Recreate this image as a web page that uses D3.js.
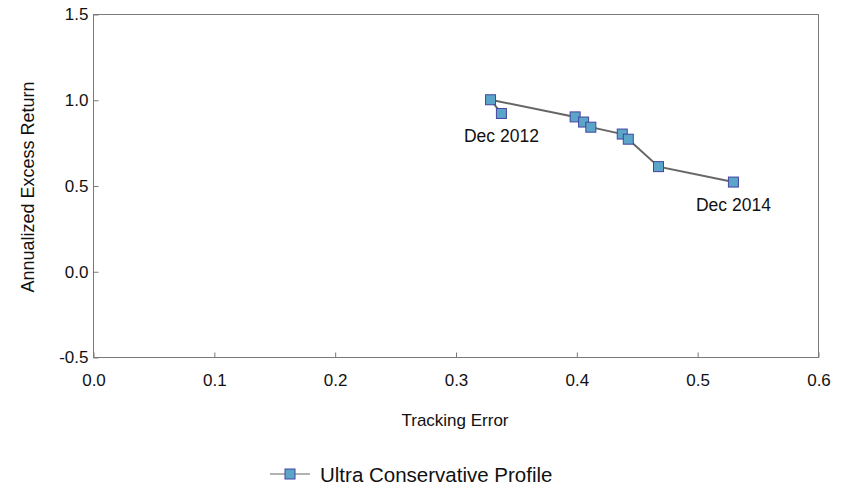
<!DOCTYPE html>
<html>
<head>
<meta charset="utf-8">
<script src="https://cdn.jsdelivr.net/npm/d3@7/dist/d3.min.js"></script>
<style>
  html, body { margin: 0; padding: 0; background: #fff; }
  svg { display: block; font-family: "Liberation Sans", Arial, sans-serif; }
</style>
</head>
<body>
<svg id="chart" width="850" height="485"></svg>
<script>
// Rolling risk/return path, Dec 2012 through Dec 2014
const periods = ["Dec 2012", "", "", "", "", "", "", "", "Dec 2014"];
const trackingError = [0.338, 0.329, 0.399, 0.406, 0.412, 0.438, 0.443, 0.468, 0.530];
const excessReturn = [0.92, 1.00, 0.90, 0.87, 0.84, 0.80, 0.77, 0.61, 0.52];
const xTicks = [0.0, 0.1, 0.2, 0.3, 0.4, 0.5, 0.6];
const yTicks = [-0.5, 0.0, 0.5, 1.0, 1.5];
const seriesName = "Ultra Conservative Profile";

const svg = d3.select("#chart");
const plotLeft = 93, plotRight = 818, plotTop = 14, plotBottom = 357;

const x = d3.scaleLinear().domain([0, 0.6]).range([plotLeft, plotRight]);
const y = d3.scaleLinear().domain([-0.5, 1.5]).range([plotBottom, plotTop]);

const frameColor = "#7a7a7a";
const lineColor = "#666666";
const markFill = "#5aa5c8";
const markStroke = "#4444a0";
const textColor = "#111";
// one decimal, plain hyphen for negatives
const fmt = d => d3.format(".1f")(d).replace("\u2212", "-");

// Plot frame
svg.append("rect")
  .attr("x", plotLeft + 0.5).attr("y", plotTop + 0.5)
  .attr("width", plotRight - plotLeft).attr("height", plotBottom - plotTop)
  .attr("fill", "none").attr("stroke", frameColor).attr("stroke-width", 1);

// X axis (ticks point into the plot)
const xAxis = svg.append("g")
  .attr("transform", `translate(0.5,${plotBottom + 0.5})`)
  .call(d3.axisBottom(x).tickValues(xTicks).tickFormat(fmt)
    .tickSizeInner(-5).tickSizeOuter(0).tickPadding(16));
xAxis.select(".domain").remove();
xAxis.selectAll(".tick line").attr("stroke", frameColor);
xAxis.selectAll(".tick text").attr("font-size", 17).attr("fill", textColor)
  .attr("font-family", "Liberation Sans, Arial, sans-serif");

// Y axis
const yAxis = svg.append("g")
  .attr("transform", `translate(${plotLeft + 0.5},0.5)`)
  .call(d3.axisLeft(y).tickValues(yTicks).tickFormat(fmt)
    .tickSizeInner(-5).tickSizeOuter(0).tickPadding(5));
yAxis.select(".domain").remove();
yAxis.selectAll(".tick line").attr("stroke", frameColor);
yAxis.selectAll(".tick text").attr("font-size", 17).attr("fill", textColor)
  .attr("font-family", "Liberation Sans, Arial, sans-serif");

// Axis titles
svg.append("text")
  .attr("x", 455).attr("y", 426)
  .attr("text-anchor", "middle").attr("font-size", 17).attr("fill", textColor)
  .text("Tracking Error");
svg.append("text")
  .attr("transform", "translate(34,187) rotate(-90)")
  .attr("text-anchor", "middle").attr("font-size", 18).attr("fill", textColor)
  .text("Annualized Excess Return");

const pts = trackingError.map((te, i) => ({ te, r: excessReturn[i], label: periods[i] }));

// Connecting path in time order
svg.append("path")
  .datum(pts)
  .attr("fill", "none").attr("stroke", lineColor).attr("stroke-width", 2)
  .attr("d", d3.line().x(d => x(d.te)).y(d => y(d.r)));

// Square markers
const sz = 10;
svg.append("g").selectAll("rect")
  .data(pts).join("rect")
  .attr("x", d => x(d.te) - sz / 2).attr("y", d => y(d.r) - sz / 2)
  .attr("width", sz).attr("height", sz)
  .attr("fill", markFill).attr("stroke", markStroke).attr("stroke-width", 1);

// Endpoint labels
svg.append("g").selectAll("text")
  .data(pts.filter(d => d.label))
  .join("text")
  .attr("x", d => x(d.te)).attr("y", d => y(d.r) + 29)
  .attr("text-anchor", "middle").attr("font-size", 17.5).attr("fill", textColor)
  .text(d => d.label);

// Legend
const lg = svg.append("g").attr("transform", "translate(0,474)");
lg.append("line").attr("x1", 270).attr("x2", 310).attr("y1", 0).attr("y2", 0)
  .attr("stroke", "#999").attr("stroke-width", 1.5);
lg.append("rect").attr("x", 285).attr("y", -5).attr("width", 10).attr("height", 10)
  .attr("fill", markFill).attr("stroke", markStroke).attr("stroke-width", 1);
lg.append("text").attr("x", 320).attr("y", 7.5)
  .attr("font-size", 20.5).attr("fill", textColor)
  .text(seriesName);
</script>
</body>
</html>
